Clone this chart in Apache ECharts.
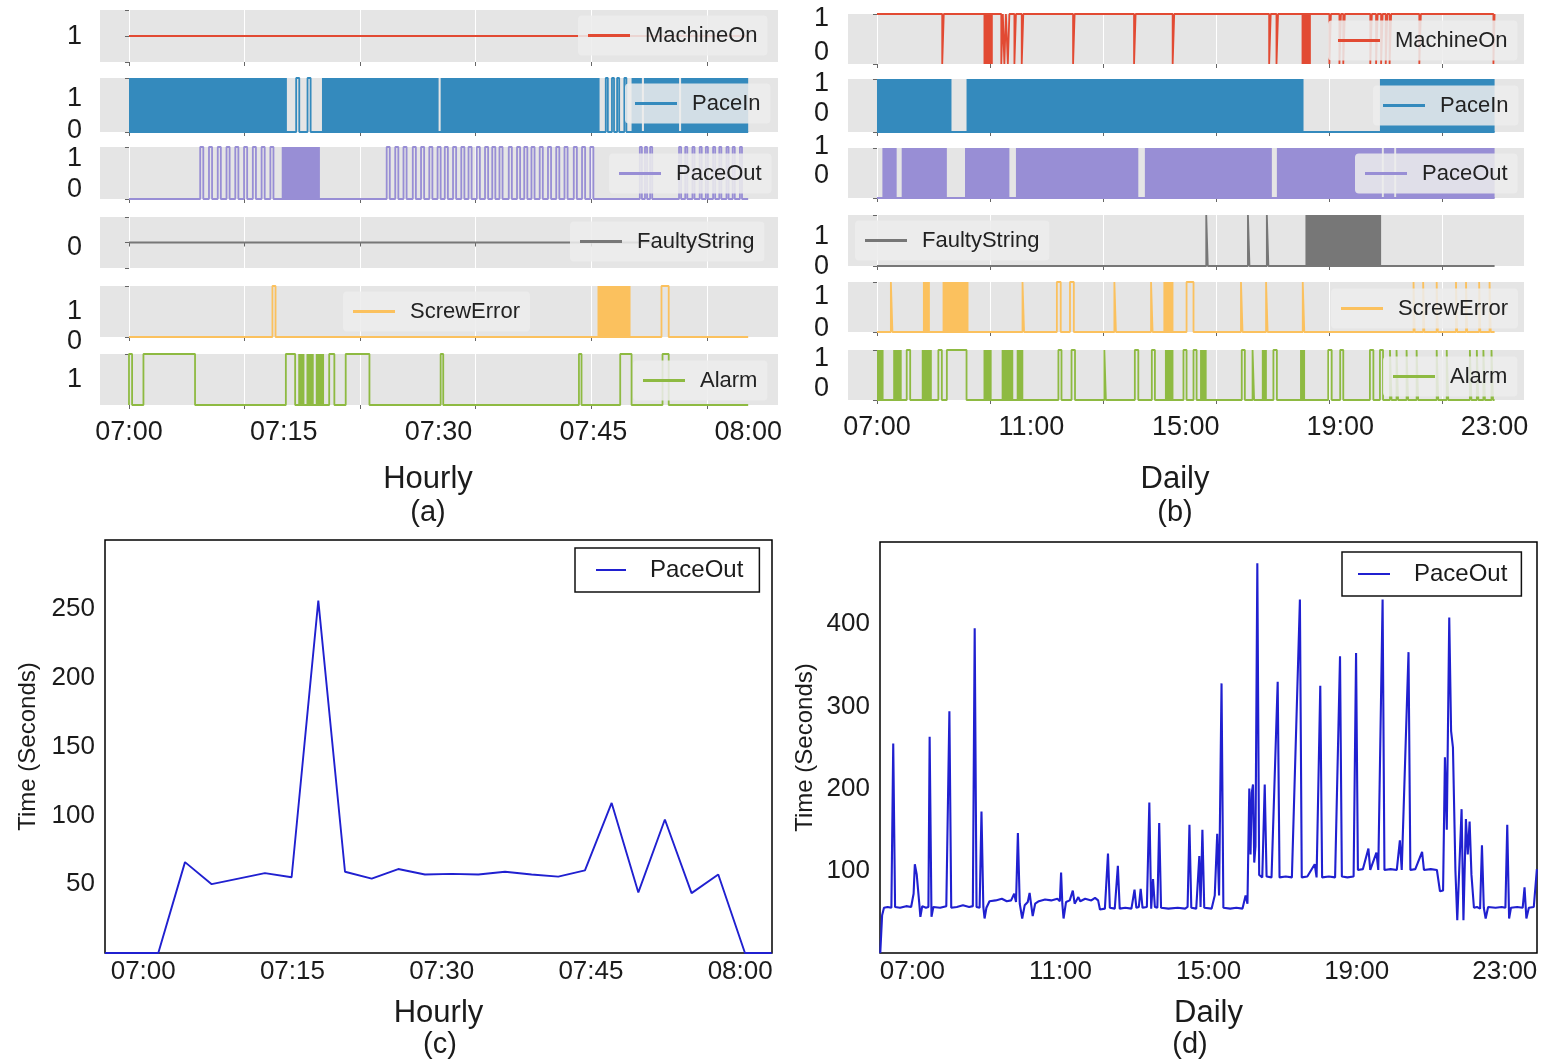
<!DOCTYPE html>
<html>
<head>
<meta charset="utf-8">
<script src="https://cdn.jsdelivr.net/npm/echarts@6/dist/echarts.min.js"></script>
<style>
  html, body { margin: 0; padding: 0; background: #ffffff; }
  #chart { width: 1542px; height: 1062px; }
</style>
</head>
<body>
<div id="chart"></div>
<script>
// ---------------------------------------------------------------
// Machine signals over one hour and one day, plus PaceOut timings
// ---------------------------------------------------------------

const signalNames = ['MachineOn', 'PaceIn', 'PaceOut', 'FaultyString', 'ScrewError', 'Alarm'];

// ---- Hourly window: minutes after 07:00 ----
const hourlyTickLabels = ['07:00', '07:15', '07:30', '07:45', '08:00'];
const hourlyGridMinutes = [0, 11.2, 22.4, 33.6, 44.8, 56];

// [start, end] spans where a signal leaves its resting level
const hourlyMachineOnPulses = [];
const hourlyMachineOnBursts = [];
const hourlyPaceInPulses = [[16.2, 16.5], [17.3, 17.6], [46.2, 46.4], [46.8, 47.0], [47.3, 47.5], [48.0, 48.2]];
const hourlyPaceInBursts = [[0, 15.3], [18.7, 30.0], [30.2, 45.6], [48.7, 49.7], [49.9, 53.3], [53.5, 60]];
const hourlyPaceOutPulses = [
  [6.9, 7.2], [7.75, 8.05], [8.6, 8.9], [9.45, 9.75], [10.3, 10.6], [11.15, 11.45], [12.0, 12.3], [12.85, 13.15], [13.7, 14.0],
  [24.97, 25.27], [25.8, 26.1], [26.6, 26.9], [27.5, 27.8], [28.3, 28.6], [29.1, 29.4], [29.9, 30.2], [30.6, 30.9],
  [31.4, 31.7], [32.2, 32.5], [32.9, 33.2], [33.7, 34.0], [34.5, 34.8], [35.2, 35.5], [35.9, 36.2], [36.8, 37.1],
  [37.6, 37.9], [38.3, 38.6], [39.0, 39.3], [39.8, 40.1], [40.6, 40.9], [41.4, 41.7], [42.2, 42.5], [43.1, 43.4],
  [43.9, 44.2], [44.7, 45.0],
  [49.5, 49.7], [50.0, 50.2], [50.5, 50.7], [53.3, 53.5], [53.9, 54.1], [54.6, 54.8], [55.3, 55.5], [55.9, 56.1],
  [56.6, 56.8], [57.2, 57.4], [57.9, 58.1], [58.5, 58.7], [59.2, 59.4]
];
const hourlyPaceOutBursts = [[14.8, 18.5]];
const hourlyFaultyStringPulses = [];
const hourlyFaultyStringBursts = [];
const hourlyScrewErrorPulses = [[13.9, 14.2], [51.6, 52.3]];
const hourlyScrewErrorBursts = [[45.4, 48.6]];
const hourlyAlarmPulses = [[0, 0.3], [1.4, 6.4], [15.2, 16.1], [19.4, 19.9], [21.0, 23.3], [30.2, 30.45], [43.6, 43.85], [47.6, 48.7], [51.7, 52.3]];
const hourlyAlarmBursts = [[16.4, 17.0], [17.2, 17.9], [18.1, 18.9]];

// ---- Daily window: hours after 07:00 ----
const dailyTickLabels = ['07:00', '11:00', '15:00', '19:00', '23:00'];
const dailyGridHours = [0, 2.93, 5.86, 8.79, 11.72, 14.65];

const dailyMachineOnPulses = [
  [1.69, 1.73], [3.22, 3.26], [3.30, 3.34], [3.39, 3.43], [3.56, 3.60], [3.75, 3.79], [5.08, 5.12], [6.66, 6.70],
  [7.66, 7.70], [10.16, 10.20], [10.35, 10.39], [11.72, 11.76], [11.98, 12.02], [12.08, 12.12], [12.78, 12.82],
  [12.93, 12.97], [13.06, 13.10], [13.18, 13.22], [13.28, 13.32], [14.05, 14.09], [15.97, 16.0]
];
const dailyMachineOnBursts = [[2.76, 3.0], [11.0, 11.24]];
const dailyPaceInPulses = [];
const dailyPaceInBursts = [[0, 1.93], [2.32, 11.05], [13.03, 16.0]];
const dailyPaceOutPulses = [];
const dailyPaceOutBursts = [[0.14, 0.51], [0.64, 1.81], [2.28, 3.43], [3.6, 6.77], [6.94, 10.23], [10.36, 13.08], [13.13, 13.40], [13.45, 16.0]];
const dailyFaultyStringPulses = [[8.53, 8.57], [9.61, 9.65], [10.10, 10.14]];
const dailyFaultyStringBursts = [[11.1, 13.06]];
const dailyScrewErrorPulses = [
  [0.36, 0.40], [3.77, 3.81], [4.66, 4.76], [5.0, 5.1], [6.15, 6.19], [7.10, 7.14], [8.02, 8.2], [9.43, 9.47],
  [10.08, 10.12], [11.03, 11.07], [13.9, 13.93], [14.15, 14.18], [14.5, 14.53], [15.0, 15.03], [15.26, 15.29],
  [15.6, 15.63], [15.87, 15.9]
];
const dailyScrewErrorBursts = [[1.19, 1.37], [1.70, 2.37], [7.42, 7.68]];
const dailyAlarmPulses = [
  [0.77, 0.86], [1.59, 1.68], [1.81, 2.32], [4.70, 4.78], [5.04, 5.13], [5.89, 5.93], [6.68, 6.77], [7.12, 7.2],
  [7.94, 8.02], [8.2, 8.28], [9.45, 9.53], [9.73, 9.77], [10.27, 10.36], [11.69, 11.78], [12.0, 12.08],
  [12.77, 12.86], [13.03, 13.11], [13.29, 13.33], [13.46, 13.50], [13.72, 13.76], [13.98, 14.02], [14.5, 14.54],
  [14.76, 14.8], [15.36, 15.4], [15.54, 15.58], [15.71, 15.75], [15.92, 15.96]
];
const dailyAlarmBursts = [[0, 0.17], [0.42, 0.64], [1.16, 1.42], [2.76, 2.97], [3.23, 3.53], [3.62, 3.79], [7.46, 7.68], [8.37, 8.54], [9.97, 10.1], [10.96, 11.09]];

// ---- PaceOut cycle time, hourly (seconds) ----
const hourlyPaceOutTimes = [
  '06:56:10', '06:58:50', '07:01:31', '07:04:12', '07:06:53', '07:09:34', '07:12:14', '07:14:55', '07:17:36',
  '07:20:17', '07:22:58', '07:25:38', '07:28:19', '07:31:00', '07:33:41', '07:36:22', '07:39:02', '07:41:43',
  '07:44:24', '07:47:05', '07:49:46', '07:52:26', '07:55:07', '07:57:48', '08:00:29', '08:03:10'
];
const hourlyPaceOutSeconds = [0, 0, 0, 66, 50, 54, 58, 55, 256, 59, 54, 61, 57, 57.5, 57, 59, 57, 55.5, 60, 109, 44, 97, 43.5, 57, 0, 0];

// ---- PaceOut cycle time, daily (seconds) ----
const dailyPaceOut = [
  ['06:08', 0], ['06:11', 46], ['06:14', 55], ['06:20', 56], ['06:26', 55], ['06:29', 255], ['06:32', 56], ['06:40', 55],
  ['06:50', 57], ['06:58', 56], ['07:02', 72], ['07:04', 108], ['07:07', 96], ['07:09', 98], ['07:11', 62], ['07:13', 44],
  ['07:16', 57], ['07:22', 55], ['07:26', 56], ['07:28', 263], ['07:31', 44], ['07:34', 56], ['07:45', 55], ['07:55', 57],
  ['07:58', 56], ['08:00', 294], ['08:03', 55], ['08:12', 56], ['08:22', 58], ['08:32', 56], ['08:38', 57], ['08:41', 395],
  ['08:44', 56], ['08:49', 55], ['08:52', 172], ['08:55', 56], ['08:57', 42], ['09:00', 55], ['09:05', 63], ['09:15', 64],
  ['09:25', 66], ['09:33', 63], ['09:40', 64], ['09:45', 72], ['09:48', 62], ['09:51', 146], ['09:54', 60], ['09:58', 42],
  ['10:02', 58], ['10:07', 62], ['10:10', 73], ['10:13', 56], ['10:15', 45], ['10:19', 60], ['10:25', 63], ['10:35', 65],
  ['10:45', 64], ['10:55', 66], ['10:59', 63], ['11:01', 98], ['11:03', 60], ['11:05', 42], ['11:09', 62], ['11:15', 64],
  ['11:20', 76], ['11:23', 60], ['11:29', 68], ['11:32', 63], ['11:40', 66], ['11:50', 64], ['11:56', 67], ['12:01', 64],
  ['12:04', 53], ['12:12', 54], ['12:17', 121], ['12:20', 55], ['12:28', 54], ['12:33', 106], ['12:36', 54], ['12:45', 55],
  ['12:55', 54], ['13:00', 77], ['13:03', 55], ['13:07', 56], ['13:10', 78], ['13:13', 55], ['13:20', 56], ['13:24', 183],
  ['13:27', 54], ['13:30', 90], ['13:33', 56], ['13:37', 55], ['13:40', 158], ['13:43', 55], ['13:55', 54], ['14:10', 55],
  ['14:22', 54], ['14:26', 56], ['14:29', 156], ['14:32', 55], ['14:40', 54], ['14:45', 118], ['14:47', 56], ['14:50', 150],
  ['14:53', 55], ['15:05', 54], ['15:10', 70], ['15:14', 145], ['15:17', 70], ['15:21', 328], ['15:24', 55], ['15:35', 54],
  ['15:45', 55], ['15:55', 54], ['16:00', 70], ['16:03', 60], ['16:06', 200], ['16:08', 120], ['16:10', 195], ['16:12', 205],
  ['16:14', 110], ['16:16', 130], ['16:19', 474], ['16:22', 95], ['16:27', 92], ['16:31', 205], ['16:34', 93], ['16:42', 92],
  ['16:52', 330], ['16:55', 92], ['17:05', 93], ['17:15', 92], ['17:28', 430], ['17:31', 92], ['17:40', 93], ['17:52', 108],
  ['17:55', 92], ['18:01', 325], ['18:04', 92], ['18:15', 93], ['18:25', 92], ['18:33', 361], ['18:36', 93], ['18:45', 92],
  ['18:55', 93], ['18:59', 365], ['19:02', 101], ['19:10', 102], ['19:19', 127], ['19:22', 101], ['19:32', 122], ['19:35', 101],
  ['19:42', 430], ['19:45', 101], ['19:55', 102], ['20:05', 101], ['20:10', 137], ['20:13', 101], ['20:24', 366], ['20:27', 101],
  ['20:35', 102], ['20:46', 123], ['20:49', 101], ['21:00', 102], ['21:10', 101], ['21:13', 100], ['21:15', 75], ['21:20', 76],
  ['21:23', 238], ['21:26', 150], ['21:30', 408], ['21:33', 270], ['21:36', 250], ['21:40', 100], ['21:43', 40], ['21:46', 38],
  ['21:50', 175], ['21:53', 40], ['21:57', 163], ['22:00', 120], ['22:03', 160], ['22:06', 95], ['22:10', 55], ['22:15', 56],
  ['22:20', 54], ['22:23', 131], ['22:26', 55], ['22:29', 42], ['22:33', 56], ['22:45', 55], ['22:55', 56], ['23:01', 55],
  ['23:04', 156], ['23:07', 42], ['23:10', 55], ['23:20', 56], ['23:29', 55], ['23:32', 80], ['23:35', 42], ['23:39', 55],
  ['23:47', 56], ['23:50', 54], ['23:52', 102]
];

const hourlyTimeTicks = ['07:00', '07:15', '07:30', '07:45', '08:00'];
const dailyTimeTicks = ['07:00', '11:00', '15:00', '19:00', '23:00'];

// ---------------------------------------------------------------
// helpers
// ---------------------------------------------------------------
const FONT = '"Liberation Sans", Arial, Helvetica, sans-serif';
const INK = '#1b1b1b';
const stripColors = ['#E24A33', '#348ABD', '#988ED5', '#777777', '#FBC15E', '#8EBA42'];
const traceColor = '#2020d0';

function clockMinutes(t) {            // 'HH:MM[:SS]' -> minutes after 07:00
  const p = t.split(':').map(Number);
  return p[0] * 60 + p[1] + (p[2] || 0) / 60 - 420;
}
function clockHours(t) { return clockMinutes(t) / 60; }

// square-wave outline from a resting level and its excursions
function stepPoints(base, spans, start, end) {
  const alt = 1 - base;
  const pts = [[start, base]];
  spans.forEach(([s, e]) => { pts.push([s, base], [s, alt], [e, alt], [e, base]); });
  pts.push([end, base]);
  return pts;
}
function shiftPad(d) { return d >= 0 ? [2 * d, 0, 0, 0] : [0, 0, -2 * d, 0]; }

const grids = [], xAxes = [], yAxes = [], series = [], legends = [];

// ---------------------------------------------------------------
// stacked signal strips
// ---------------------------------------------------------------
const stripPanels = [
  {
    left: 100, width: 678, xMin: -2.81, xMax: 62.89, start: 0, end: 60,
    gridTicks: hourlyGridMinutes,
    labelText: hourlyTickLabels, labelValues: hourlyTickLabels.map(clockMinutes),
    labelMargin: 14, yLabelMargin: 18,
    signals: [
      { base: 1, pulses: hourlyMachineOnPulses, bursts: hourlyMachineOnBursts },
      { base: 0, pulses: hourlyPaceInPulses, bursts: hourlyPaceInBursts },
      { base: 0, pulses: hourlyPaceOutPulses, bursts: hourlyPaceOutBursts },
      { base: 0, pulses: hourlyFaultyStringPulses, bursts: hourlyFaultyStringBursts },
      { base: 0, pulses: hourlyScrewErrorPulses, bursts: hourlyScrewErrorBursts },
      { base: 0, pulses: hourlyAlarmPulses, bursts: hourlyAlarmBursts }
    ],
    strips: [
      { top: 10, height: 52, yMin: 0.95, yMax: 1.05, yTicks: [0.95, 1, 1.05], yLabels: [1], shift: { 1: 1, 0: 0 }, legend: [578, 15.5] },
      { top: 78, height: 54, yMin: 0, yMax: 1, yTicks: [0, 1], yLabels: [0, 1], shift: { 1: 21, 0: -1 }, legend: [625, 83.5] },
      { top: 147, height: 52, yMin: 0, yMax: 1, yTicks: [0, 1], yLabels: [0, 1], shift: { 1: 12, 0: -9 }, legend: [609, 153.5] },
      { top: 217, height: 51, yMin: -1, yMax: 1, yTicks: [-1, 0, 1], yLabels: [0], shift: { 1: 0, 0: 5 }, legend: [570, 221.5] },
      { top: 286, height: 51, yMin: 0, yMax: 1, yTicks: [0, 1], yLabels: [0, 1], shift: { 1: 26, 0: 5 }, legend: [343, 291.5] },
      { top: 354, height: 51, yMin: 0, yMax: 1, yTicks: [0, 1], yLabels: [0, 1], shift: { 1: 26, 0: 0 }, legend: [633, 360.5] }
    ]
  },
  {
    left: 848, width: 676, xMin: -0.751, xMax: 16.762, start: 0, end: 16,
    gridTicks: dailyGridHours,
    labelText: dailyTickLabels, labelValues: dailyTickLabels.map(clockHours),
    labelMargin: 14, yLabelMargin: 19,
    signals: [
      { base: 1, pulses: dailyMachineOnPulses, bursts: dailyMachineOnBursts },
      { base: 0, pulses: dailyPaceInPulses, bursts: dailyPaceInBursts },
      { base: 0, pulses: dailyPaceOutPulses, bursts: dailyPaceOutBursts },
      { base: 0, pulses: dailyFaultyStringPulses, bursts: dailyFaultyStringBursts },
      { base: 0, pulses: dailyScrewErrorPulses, bursts: dailyScrewErrorBursts },
      { base: 0, pulses: dailyAlarmPulses, bursts: dailyAlarmBursts }
    ],
    strips: [
      { top: 14, height: 50, yMin: 0, yMax: 1, yTicks: [0, 1], yLabels: [0, 1], shift: { 1: 5, 0: -11 }, legend: [1328, 20.5] },
      { top: 79, height: 53, yMin: 0, yMax: 1, yTicks: [0, 1], yLabels: [0, 1], shift: { 1: 5, 0: -18 }, legend: [1373, 85.5] },
      { top: 148, height: 50, yMin: 0, yMax: 1, yTicks: [0, 1], yLabels: [0, 1], shift: { 1: -1, 0: -22 }, legend: [1355, 153.5] },
      { top: 215, height: 51, yMin: 0, yMax: 1, yTicks: [0, 1], yLabels: [0, 1], shift: { 1: 22, 0: 1 }, legend: [855, 220.5] },
      { top: 282, height: 50, yMin: 0, yMax: 1, yTicks: [0, 1], yLabels: [0, 1], shift: { 1: 15, 0: -3 }, legend: [1331, 288.5] },
      { top: 350, height: 50, yMin: 0, yMax: 1, yTicks: [0, 1], yLabels: [0, 1], shift: { 1: 9, 0: -11 }, legend: [1383, 356.5] }
    ]
  }
];

stripPanels.forEach(p => {
  p.strips.forEach((s, k) => {
    const idx = grids.length;
    const last = k === p.strips.length - 1;
    const color = stripColors[k];
    const name = signalNames[k];
    const sig = p.signals[k];

    grids.push({
      left: p.left, width: p.width, top: s.top, height: s.height,
      show: true, backgroundColor: '#E5E5E5', borderWidth: 0
    });
    xAxes.push({
      gridIndex: idx, type: 'value', min: p.xMin, max: p.xMax,
      axisLine: { show: false },
      axisTick: { show: true, customValues: p.gridTicks, length: 4, lineStyle: { color: '#666', width: 1 } },
      splitLine: { show: true, lineStyle: { color: '#ffffff', width: 1 } },
      axisLabel: last ? {
        show: true, customValues: p.labelValues, margin: p.labelMargin,
        formatter: v => p.labelText[p.labelValues.indexOf(v)],
        fontSize: 27, fontFamily: FONT, color: INK
      } : { show: false }
    });
    yAxes.push({
      gridIndex: idx, type: 'value', min: s.yMin, max: s.yMax,
      axisLine: { show: false },
      axisTick: { show: true, customValues: s.yTicks, length: 4, lineStyle: { color: '#666', width: 1 } },
      splitLine: { show: false },
      axisLabel: {
        show: true, customValues: s.yLabels, margin: p.yLabelMargin,
        formatter: v => (v === 1 ? '{one|1}' : '{zero|0}'),
        rich: {
          one: { fontSize: 27, fontFamily: FONT, color: INK, padding: shiftPad(s.shift[1]) },
          zero: { fontSize: 27, fontFamily: FONT, color: INK, padding: shiftPad(s.shift[0]) }
        }
      }
    });
    series.push({
      type: 'line', name, xAxisIndex: idx, yAxisIndex: idx,
      data: stepPoints(sig.base, sig.pulses, p.start, p.end),
      symbol: 'none', clip: false, animation: false,
      lineStyle: { color, width: 1.8 }, itemStyle: { color },
      markArea: {
        silent: true,
        itemStyle: { color, opacity: 1 },
        data: sig.bursts.map(([a, b]) => [{ xAxis: a }, { xAxis: b }])
      }
    });
    legends.push({
      data: [name], left: s.legend[0], top: s.legend[1],
      backgroundColor: 'rgba(236,236,236,0.86)', borderRadius: 4, padding: [9, 10],
      icon: 'rect', itemWidth: 42, itemHeight: 3, selectedMode: false,
      textStyle: { fontSize: 22, fontFamily: FONT, color: '#222', padding: [0, 0, 0, 10] }
    });
  });
});

// ---------------------------------------------------------------
// PaceOut cycle-time traces
// ---------------------------------------------------------------
const traceName = ['PaceOut seconds hourly', 'PaceOut seconds daily'];
const traces = [
  {
    left: 105, top: 540, width: 667, height: 413, xMin: -3.84, xMax: 63.2, yMax: 300, yStep: 50,
    ticks: hourlyTimeTicks, tickValues: hourlyTimeTicks.map(clockMinutes), axisName: 'Hourly', yNameGap: 65,
    data: hourlyPaceOutTimes.map((t, i) => [clockMinutes(t), hourlyPaceOutSeconds[i]]),
    lineWidth: 1.9, legend: { left: 575, top: 548, padding: [10, 16, 10, 21], itemWidth: 30 }
  },
  {
    left: 880, top: 542, width: 657, height: 411, xMin: -0.874, xMax: 16.87, yMax: 500, yStep: 100,
    ticks: dailyTimeTicks, tickValues: dailyTimeTicks.map(clockHours), axisName: 'Daily', yNameGap: 63,
    data: dailyPaceOut.map(([t, v]) => [clockHours(t), v]),
    lineWidth: 2.1, legend: { left: 1342, top: 552, padding: [10, 14, 10, 16], itemWidth: 32 }
  }
];

traces.forEach((c, j) => {
  const idx = grids.length;
  grids.push({
    left: c.left, top: c.top, width: c.width, height: c.height,
    show: true, backgroundColor: 'transparent', borderColor: '#000', borderWidth: 1.5
  });
  xAxes.push({
    gridIndex: idx, type: 'value', min: c.xMin, max: c.xMax,
    axisLine: { show: false }, axisTick: { show: false }, splitLine: { show: false },
    axisLabel: {
      customValues: c.tickValues, margin: 6,
      formatter: v => c.ticks[c.tickValues.indexOf(v)],
      fontSize: 26, fontFamily: FONT, color: INK
    },
    name: c.axisName, nameLocation: 'middle', nameGap: 45,
    nameTextStyle: { fontSize: 31, fontFamily: FONT, color: INK }
  });
  yAxes.push({
    gridIndex: idx, type: 'value', min: 0, max: c.yMax, interval: c.yStep,
    axisLine: { show: false }, axisTick: { show: false }, splitLine: { show: false },
    axisLabel: { showMinLabel: false, showMaxLabel: false, margin: 10, fontSize: 26, fontFamily: FONT, color: INK },
    name: 'Time (Seconds)', nameLocation: 'middle', nameGap: c.yNameGap,
    nameTextStyle: { fontSize: 24, fontFamily: FONT, color: INK }
  });
  series.push({
    type: 'line', name: traceName[j], xAxisIndex: idx, yAxisIndex: idx,
    data: c.data, symbol: 'none', animation: false,
    lineStyle: { color: traceColor, width: c.lineWidth }, itemStyle: { color: traceColor }
  });
  legends.push({
    data: [traceName[j]], left: c.legend.left, top: c.legend.top, padding: c.legend.padding,
    backgroundColor: '#ffffff', borderColor: '#111', borderWidth: 1.5, borderRadius: 0,
    icon: 'rect', itemWidth: c.legend.itemWidth, itemHeight: 2, selectedMode: false,
    formatter: () => 'PaceOut',
    textStyle: { fontSize: 24, fontFamily: FONT, color: INK, padding: [0, 0, 0, 19] }
  });
});

// ---------------------------------------------------------------
// panel captions
// ---------------------------------------------------------------
const captions = [
  ['Hourly', 428, 479, 31], ['(a)', 428, 513, 29],
  ['Daily', 1175, 479, 31], ['(b)', 1175, 513, 29],
  ['(c)', 440, 1045, 29], ['(d)', 1190, 1045, 29]
];

const chart = echarts.init(document.getElementById('chart'), null, { renderer: 'canvas' });
chart.setOption({
  animation: false,
  backgroundColor: '#ffffff',
  grid: grids,
  xAxis: xAxes,
  yAxis: yAxes,
  legend: legends,
  series,
  graphic: captions.map(([text, x, y, size]) => ({
    type: 'text', x, y, silent: true,
    style: { text, x: 0, y: 0, textAlign: 'center', textVerticalAlign: 'middle', fontSize: size, fontFamily: FONT, fill: INK }
  }))
});
</script>
</body>
</html>
